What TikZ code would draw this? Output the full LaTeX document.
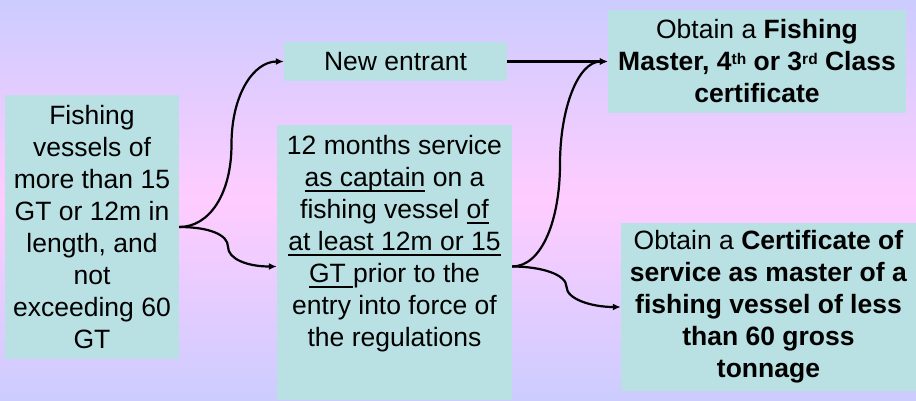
\documentclass[tikz,border=0pt]{standalone}
\usepackage{fontspec}
\setmainfont{Liberation Sans}
\usetikzlibrary{arrows.meta,calc}
\definecolor{boxfill}{RGB}{185,224,227}
\definecolor{bgblue}{RGB}{204,204,255}
\definecolor{bgpink}{RGB}{255,204,255}
\newsavebox{\undlbox}
\newcommand{\undl}[1]{\sbox{\undlbox}{#1}\rlap{\rule[-5.5pt]{\wd\undlbox}{1.3pt}}\usebox{\undlbox}}
\newcommand{\sups}[1]{\raisebox{6pt}{\fontsize{15.5}{16}\selectfont #1}}
\tikzset{
  cardtext/.style={inner sep=0pt, align=center, font=\fontsize{26.5}{32}\selectfont},
  card/.style={cardtext, fill=boxfill},
  flow/.style={line width=2.2pt, -{Latex[length=8pt,width=7pt]}}
}
\begin{document}
\begin{tikzpicture}[x=1pt,y=-1pt]
  \shade[top color=bgblue, bottom color=bgblue, middle color=bgpink] (0,0) rectangle (916,400);
  \useasboundingbox (0,0) rectangle (916,400);

  \node[card, minimum width=174pt, minimum height=264pt] (vessels) at (92,227)
    {Fishing\\vessels of\\more than 15\\GT or 12m in\\length, and\\not\\exceeding 60\\GT};
  \node[card, minimum width=223pt, minimum height=39pt] (entrant) at (395.5,61.5) {New entrant};
  \node[card, minimum width=235pt, minimum height=275pt] (course) at (394.5,262.5) {};
  \node[cardtext, anchor=north] (coursetext) at ([yshift=-10pt]course.north)
    {12 months service\\\undl{as captain} on a\\fishing vessel \undl{of}\\\undl{at least 12m or 15}\\\undl{GT\ }prior to the\\entry into force of\\the regulations};
  \node[card, minimum width=298pt, minimum height=103pt] (fishmaster) at (757,61.5)
    {Obtain a \textbf{Fishing}\\\textbf{Master, 4\sups{th} or 3\sups{rd} Class}\\\textbf{certificate}};
  \node[card, minimum width=295pt, minimum height=168pt] (service) at (768.5,307)
    {Obtain a \textbf{Certificate of}\\\textbf{service as master of a}\\\textbf{fishing vessel of less}\\\textbf{than 60 gross}\\\textbf{tonnage}};

  \coordinate (vup) at ($(vessels.east)!0.5!(entrant.west)$);
  \coordinate (vdown) at ($(vessels.east)!0.5!([yshift=-4pt]course.west)$);
  \coordinate (cup) at ($([yshift=-4pt]course.east)!0.5!(fishmaster.west)$);
  \coordinate (cdown) at ($([yshift=-4pt]course.east)!0.5!(service.west)$);

  \draw[flow] (vessels.east) .. controls +(30,0) and +(0,50) .. (vup)
    .. controls +(0,-50) and +(-30,0) .. (entrant.west);
  \draw[flow] (vessels.east) .. controls +(30,0) and +(0,-12) .. (vdown)
    .. controls +(0,12) and +(-30,0) .. ([yshift=-4pt]course.west);
  \draw[flow] (entrant) -- (fishmaster);
  \draw[flow] ([yshift=-4pt]course.east) .. controls +(30,0) and +(0,55) .. (cup)
    .. controls +(0,-55) and +(-30,0) .. (fishmaster.west);
  \draw[flow] ([yshift=-4pt]course.east) .. controls +(30,0) and +(0,-12) .. (cdown)
    .. controls +(0,12) and +(-30,0) .. (service.west);
\end{tikzpicture}
\end{document}
